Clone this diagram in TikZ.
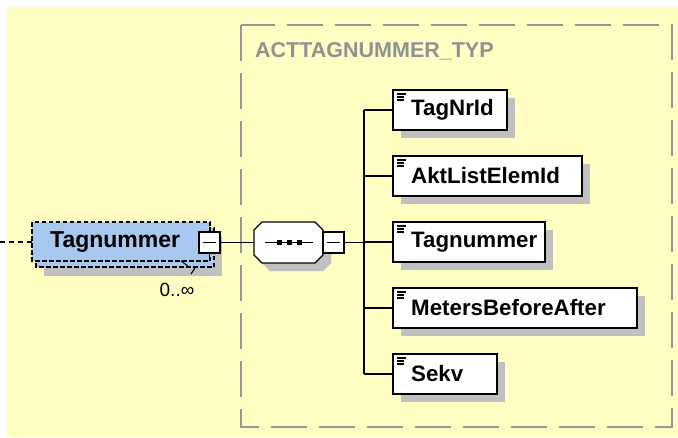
\documentclass[tikz,border=0pt]{standalone}
\usepackage{fontspec}
\setmainfont{Liberation Sans}
\definecolor{bgyellow}{RGB}{255,255,196}
\definecolor{boxgray}{RGB}{150,150,150}
\definecolor{shadowgray}{RGB}{192,192,192}
\definecolor{elemblue}{RGB}{168,200,240}
\definecolor{titlegray}{RGB}{145,145,145}
\begin{document}
\begin{tikzpicture}[x=1pt,y=-1pt,
  childframe/.style={draw=black, line width=1.3pt, fill=white},
  childtext/.style={anchor=west, inner sep=0pt, text=black, font=\fontsize{22.3}{24}\selectfont\bfseries},
  conn/.style={line width=1.3pt, black},
  minusbox/.style={draw=black, line width=1.2pt, fill=white, minimum width=21pt, minimum height=21pt, inner sep=0pt},
  elemdash/.style={black, line width=1.3pt, dash pattern=on 4.5pt off 2.5pt, fill=elemblue},
]
\useasboundingbox (0,0) rectangle (678,437);
\fill[bgyellow] (7,7) rectangle (678,437);
% type box
\draw[boxgray, line width=2pt, dash pattern=on 36pt off 12pt] (241,25) rectangle (672,427);
\node[anchor=west, inner sep=0pt, text=titlegray, font=\fontsize{21.5}{23}\selectfont\bfseries] (title) at (255,51) {ACTTAGNUMMER\_TYP};

% main element
\fill[shadowgray] (44,236) rectangle (222,276);
\draw[elemdash] (36,228) rectangle (214,267);
\draw[elemdash] (32,222) rectangle (210,261);
\node[anchor=west, inner sep=0pt, font=\fontsize{23}{25}\selectfont\bfseries, text=black] (main) at (50,242) {Tagnummer};
\coordinate (mainL) at (32,242);
\coordinate (leftend) at (0,242);
\draw[black, line width=1.2pt, dash pattern=on 5pt off 4pt] (leftend) -- (mainL);
\draw[black, line width=1.2pt] (209.5,227) -- (209.5,258);
\node[minusbox] (m1) at (209.5,242.5) {};
\draw[black, line width=1.2pt] (203,242.5) -- (216,242.5);
\draw[black, line width=1pt] (181,261) -- (188,266) (195,268) -- (191,274);
\node[anchor=center, inner sep=0pt, font=\fontsize{19}{21}\selectfont, text=black] (occ) at (177,290) {0..∞};

% sequence compositor
\fill[shadowgray] (270,230) -- (323,230) -- (331,238) -- (331,263) -- (323,271) -- (270,271) -- (262,263) -- cycle;
\draw[black, line width=1.2pt, fill=white] (262,222) -- (315,222) -- (323,230) -- (323,255) -- (315,263) -- (262,263) -- (254,255) -- (254,230) -- cycle;
\coordinate (seqL) at (254,242.5);
\draw[black, line width=1.2pt] (265,242.5) -- (313,242.5);
\foreach \xx in {279,289,299} \fill[black] (\xx-2.5,240) rectangle (\xx+2.5,245);
\node[minusbox] (m2) at (333.5,242.5) {};
\draw[black, line width=1.2pt] (327,242.5) -- (340,242.5);

\draw[conn] (m1.east) -- (seqL);
\coordinate (bus) at (364,242.5);
\draw[conn] (m2.east) -- (bus);

% children
\foreach \name/\txt/\yy/\w in {c1/TagNrId/110/114, c2/AktListElemId/176/189, c3/Tagnummer/242/152, c4/MetersBeforeAfter/308/244, c5/Sekv/374/104}{
  \fill[shadowgray] (401,\yy-12) rectangle (401+\w,\yy+28);
  \draw[childframe] (393,\yy-20) rectangle (393+\w,\yy+20);
  \coordinate (\name) at (393,\yy);
  \node[childtext] (\name t) at (411,\yy) {\txt};
  \draw[black, line width=1.1pt] (397,\yy-16) -- (406,\yy-16) (397,\yy-13) -- (404,\yy-13) (397,\yy-10) -- (404,\yy-10);
}
\draw[conn] (364,110) -- (364,374);
\foreach \n in {c1,c2,c3,c4,c5} \draw[conn] (\n -| bus) -- (\n);
\end{tikzpicture}
\end{document}
